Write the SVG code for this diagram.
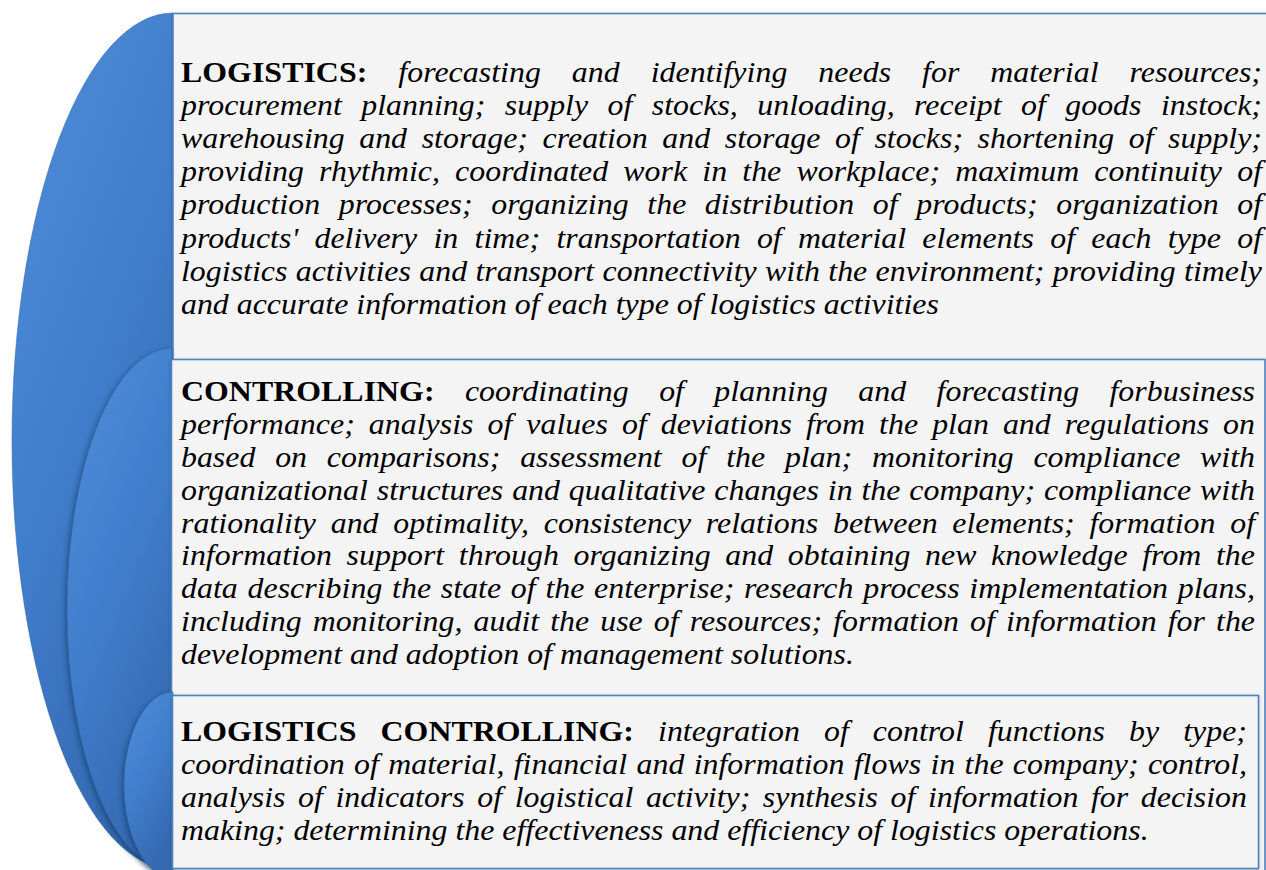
<svg xmlns="http://www.w3.org/2000/svg" width="1266" height="870" viewBox="0 0 1266 870">
  <defs>
    <linearGradient id="blue" x1="0" y1="0" x2="0.5" y2="1">
      <stop offset="0" stop-color="#4f8edb"/>
      <stop offset="0.5" stop-color="#417fcd"/>
      <stop offset="1" stop-color="#3569b1"/>
    </linearGradient>
    <filter id="lift" x="-30%" y="-10%" width="160%" height="120%">
      <feDropShadow dx="-2" dy="2" stdDeviation="2.5" flood-color="#102a50" flood-opacity="0.45"/>
    </filter>
    <filter id="soft" x="-5%" y="-5%" width="110%" height="110%">
      <feDropShadow dx="0" dy="1" stdDeviation="1.5" flood-color="#000" flood-opacity="0.25"/>
    </filter>
  </defs>
  <style>
    .arc { fill: url(#blue); stroke: #2e5f9f; stroke-width: 1; stroke-opacity: 0.5; }
    .box { fill: #f4f4f4; stroke: #4f81bd; stroke-width: 1.6; }
    .t { font-family: "Liberation Serif", "Times New Roman", serif; font-size: 28.7px; font-style: italic; fill: #000; }
    .b { font-weight: bold; font-style: normal; }
  </style>

  <rect width="1266" height="870" fill="#ffffff"/>

  <!-- Logistics -->
  <g id="logistics">
    <path class="arc" d="M173,13 A161,428 0 0 0 173,869 Z"/>
    <rect class="box" x="173" y="13.5" width="1110" height="870" filter="url(#soft)"/>
    <g transform="scale(1.111 1)">
      <text class="t" x="162.92" y="81.7" textLength="973" lengthAdjust="spacing" style="word-spacing:0.72em"><tspan class="b">LOGISTICS:</tspan> forecasting and identifying needs for material resources;</text>
      <text class="t" x="162.92" y="114.9" textLength="973" lengthAdjust="spacing" style="word-spacing:0.357em">procurement planning; supply of stocks, unloading, receipt of goods instock;</text>
      <text class="t" x="162.92" y="148.1" textLength="973" lengthAdjust="spacing" style="word-spacing:0.207em">warehousing and storage; creation and storage of stocks; shortening of supply;</text>
      <text class="t" x="162.92" y="181.3" textLength="973" lengthAdjust="spacing" style="word-spacing:0.224em">providing rhythmic, coordinated work in the workplace; maximum continuity of</text>
      <text class="t" x="162.92" y="214.5" textLength="973" lengthAdjust="spacing" style="word-spacing:0.328em">production processes; organizing the distribution of products; organization of</text>
      <text class="t" x="162.92" y="247.7" textLength="973" lengthAdjust="spacing" style="word-spacing:0.262em">products' delivery in time; transportation of material elements of each type of</text>
      <text class="t" x="162.92" y="280.9" textLength="973" lengthAdjust="spacing" style="word-spacing:0.011em">logistics activities and transport connectivity with the environment; providing timely</text>
      <text class="t" x="162.92" y="314.1">and accurate information of each type of logistics activities</text>
    </g>
  </g>

  <!-- Controlling -->
  <g id="controlling">
    <path class="arc" d="M172,348 A105,261 0 0 0 172,870 Z" filter="url(#lift)"/>
    <rect class="box" x="171.5" y="359.5" width="1093.5" height="520" filter="url(#soft)"/>
    <g transform="scale(1.111 1)">
      <text class="t" x="162.92" y="401" textLength="966.7" lengthAdjust="spacing" style="word-spacing:0.701em"><tspan class="b">CONTROLLING:</tspan> coordinating of planning and forecasting forbusiness</text>
      <text class="t" x="162.92" y="433.9" textLength="966.7" lengthAdjust="spacing" style="word-spacing:0.188em">performance; analysis of values of deviations from the plan and regulations on</text>
      <text class="t" x="162.92" y="466.8" textLength="966.7" lengthAdjust="spacing" style="word-spacing:0.372em">based on comparisons; assessment of the plan; monitoring compliance with</text>
      <text class="t" x="162.92" y="499.7" textLength="966.7" lengthAdjust="spacing" style="word-spacing:0.027em">organizational structures and qualitative changes in the company; compliance with</text>
      <text class="t" x="162.92" y="532.6" textLength="966.7" lengthAdjust="spacing" style="word-spacing:0.21em">rationality and optimality, consistency relations between elements; formation of</text>
      <text class="t" x="162.92" y="565.5" textLength="966.7" lengthAdjust="spacing" style="word-spacing:0.205em">information support through organizing and obtaining new knowledge from the</text>
      <text class="t" x="162.92" y="598.4" textLength="966.7" lengthAdjust="spacing" style="word-spacing:0.052em">data describing the state of the enterprise; research process implementation plans,</text>
      <text class="t" x="162.92" y="631.3" textLength="966.7" lengthAdjust="spacing" style="word-spacing:0.095em">including monitoring, audit the use of resources; formation of information for the</text>
      <text class="t" x="162.92" y="664.2">development and adoption of management solutions.</text>
    </g>
  </g>

  <!-- Logistics controlling -->
  <g id="logistics-controlling">
    <path class="arc" d="M173,692 A49,93 0 0 0 173,878 Z" filter="url(#lift)"/>
    <rect class="box" x="172.5" y="695.5" width="1086" height="173" filter="url(#soft)"/>
    <g transform="scale(1.111 1)">
      <text class="t" x="162.92" y="741" textLength="959.5" lengthAdjust="spacing" style="word-spacing:0.506em"><tspan class="b">LOGISTICS CONTROLLING:</tspan> integration of control functions by type;</text>
      <text class="t" x="162.92" y="774.1" textLength="959.5" lengthAdjust="spacing" style="word-spacing:0.04em">coordination of material, financial and information flows in the company; control,</text>
      <text class="t" x="162.92" y="807.2" textLength="959.5" lengthAdjust="spacing" style="word-spacing:0.146em">analysis of indicators of logistical activity; synthesis of information for decision</text>
      <text class="t" x="162.92" y="840.3">making; determining the effectiveness and efficiency of logistics operations.</text>
    </g>
  </g>
</svg>
